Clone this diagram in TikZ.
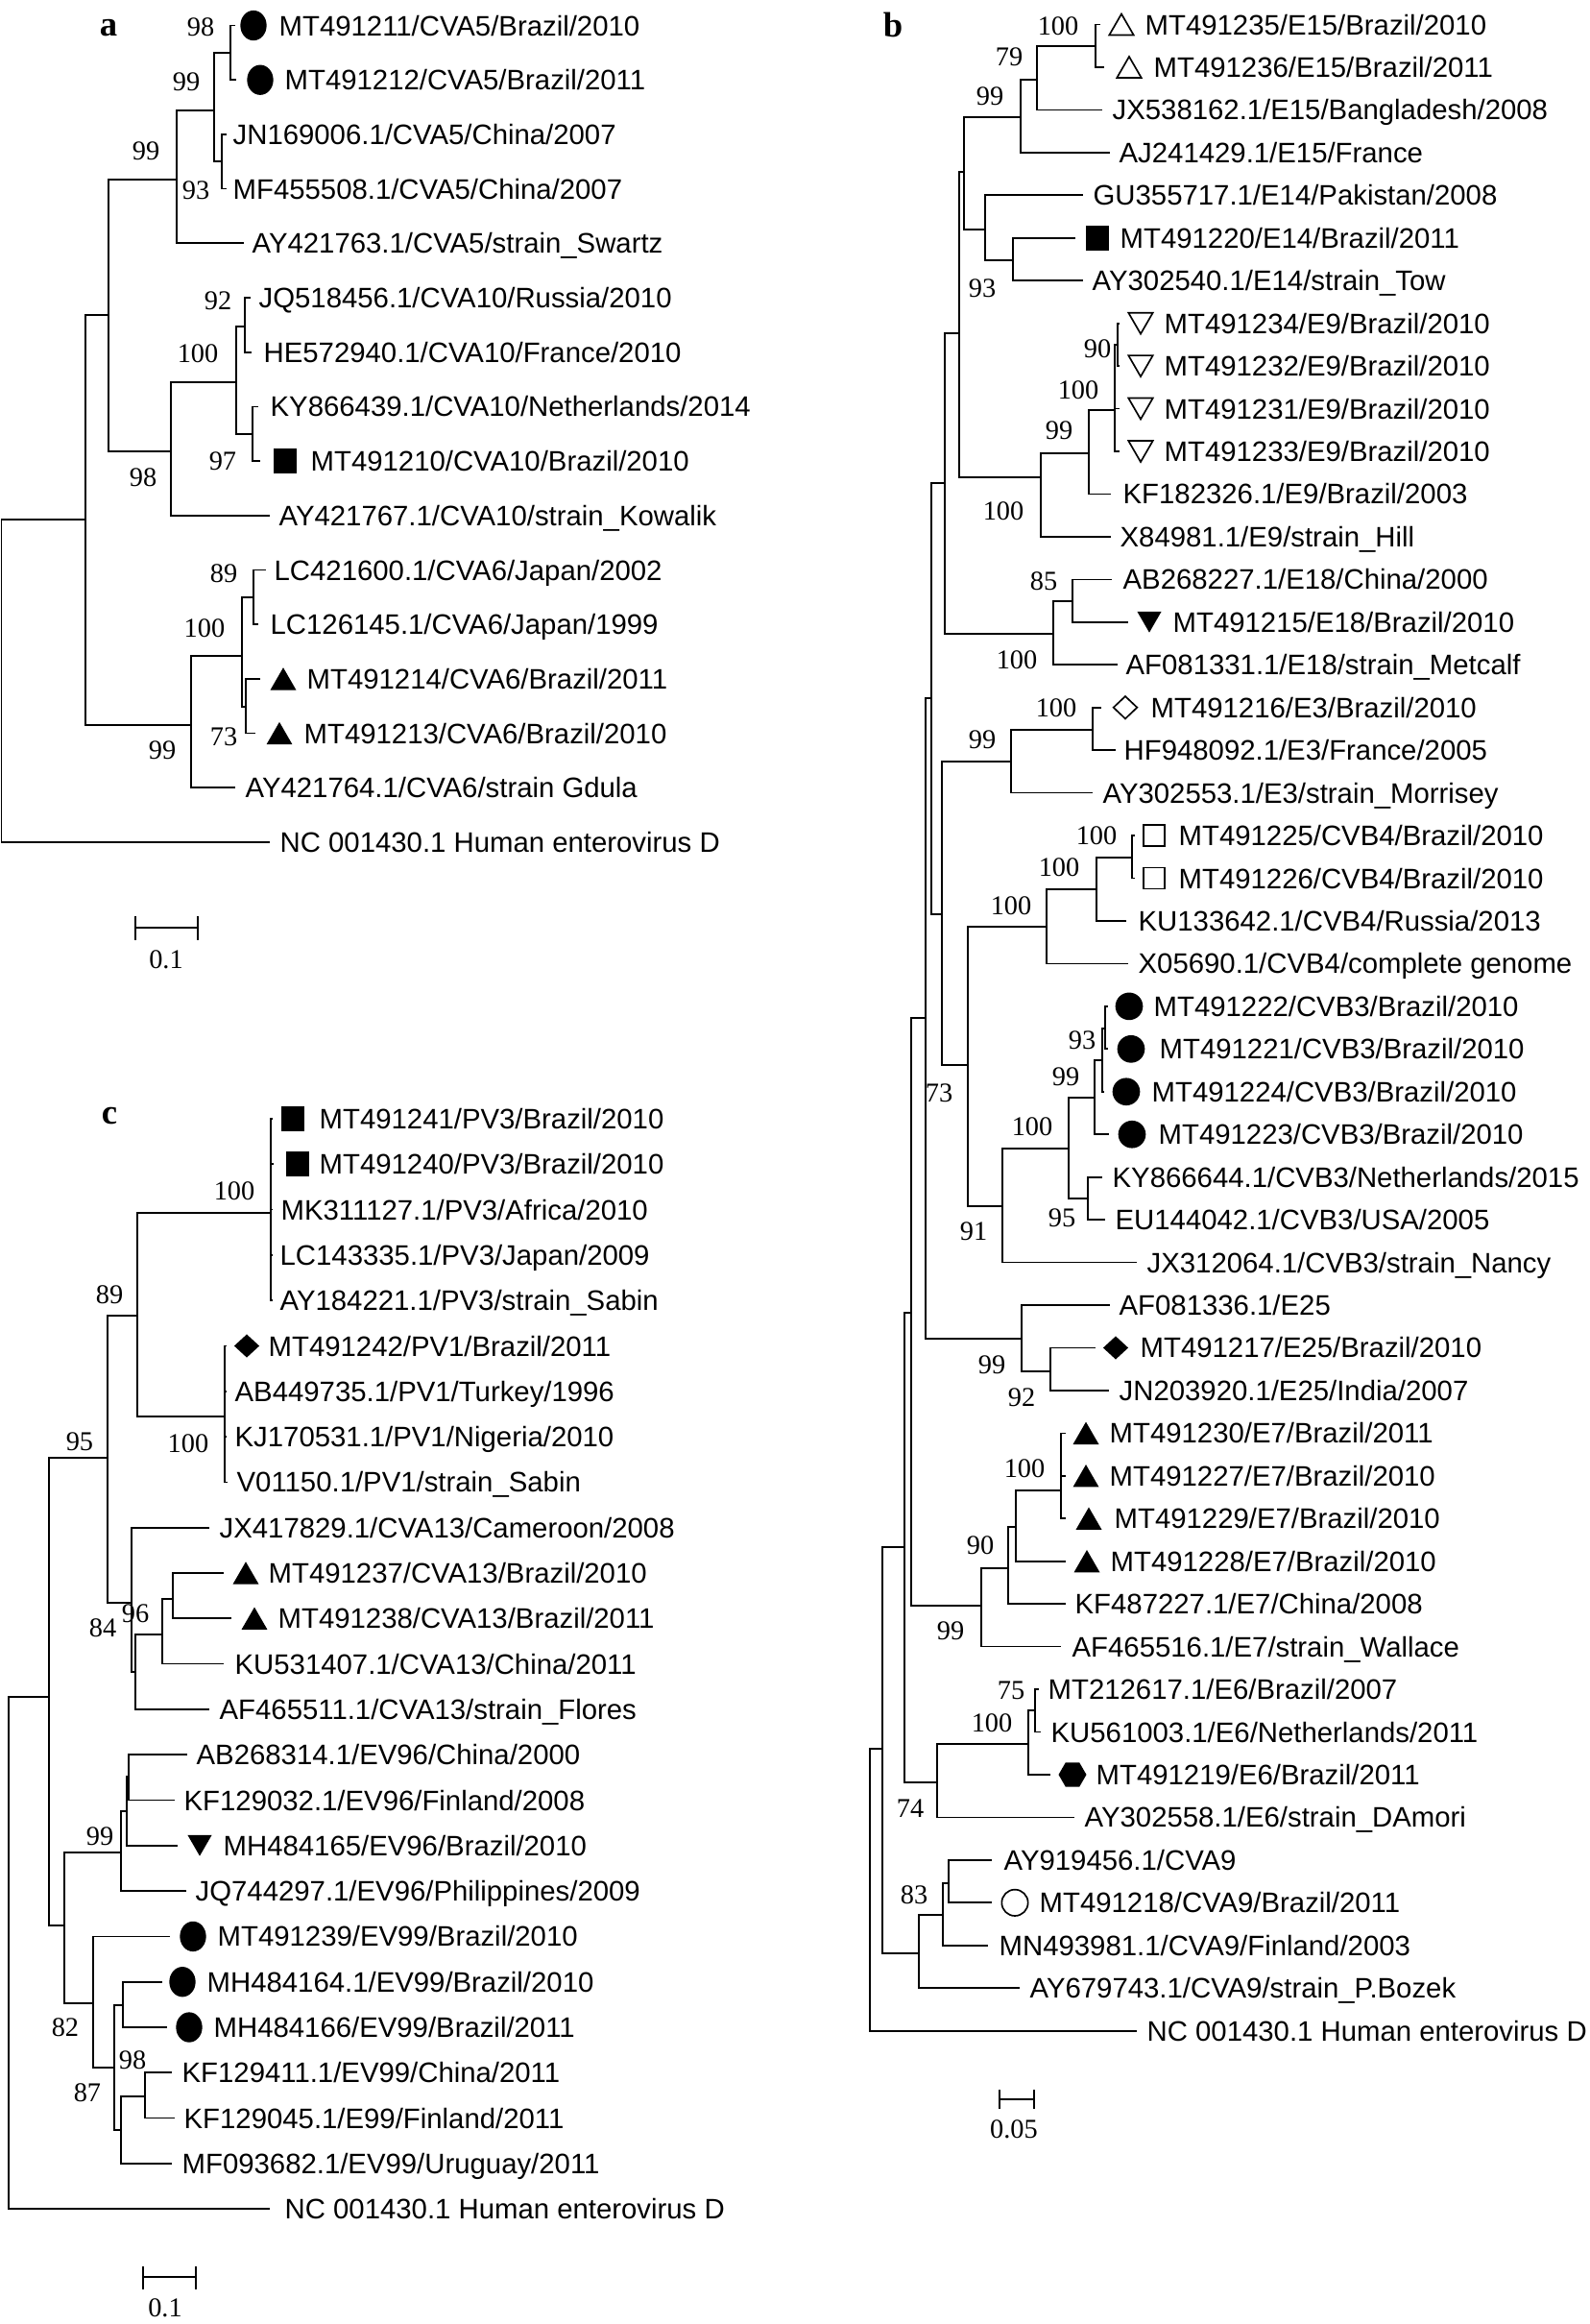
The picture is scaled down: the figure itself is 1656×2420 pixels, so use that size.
\documentclass[tikz,border=0pt]{standalone}
\usepackage{fontspec}
\setmainfont{Liberation Serif}
\newfontfamily\arialfam{Liberation Sans}
\usetikzlibrary{shapes.geometric}
\newcommand{\leaffont}{\arialfam\fontsize{8.8}{10}\selectfont}
\newcommand{\bsfont}{\fontsize{8.5}{10}\selectfont}
\newcommand{\mkleaf}[5]{\coordinate (#1) at (#2,#3); \node[lbl] (#1t) at (#4,#3) {#5};}
\newcommand{\mkbs}[4]{\node[bs] (#1) at (#2,#3) {#4};}
\begin{document}
\begin{tikzpicture}[x=0.3pt,y=-0.3pt,
 br/.style={line width=0.5pt},
 lbl/.style={anchor=base west,inner sep=0pt,yshift=-3.15pt,font=\leaffont},
 bs/.style={inner sep=0pt,font=\bsfont},
 panel/.style={anchor=base,inner sep=0pt,font=\fontsize{11}{12}\selectfont\bfseries},
 fcirc/.style={circle,fill=black,inner sep=0pt,minimum size=8.6pt},
 fell/.style={ellipse,fill=black,inner sep=0pt,minimum width=8.2pt,minimum height=9.4pt},
 ocirc/.style={circle,draw=black,line width=0.5pt,inner sep=0pt,minimum size=8.2pt},
 fsq/.style={rectangle,fill=black,inner sep=0pt,minimum width=7.3pt,minimum height=7.8pt},
 osq/.style={rectangle,draw=black,line width=0.5pt,inner sep=0pt,minimum size=6.6pt},
 ftri/.style={regular polygon,regular polygon sides=3,fill=black,inner sep=0pt,minimum size=9.35pt,yshift=-1.15pt},
 otri/.style={regular polygon,regular polygon sides=3,draw=black,line width=0.5pt,inner sep=0pt,minimum size=8.8pt,yshift=-1.1pt},
 fdtri/.style={regular polygon,regular polygon sides=3,shape border rotate=180,fill=black,inner sep=0pt,minimum size=8.7pt,yshift=1.1pt},
 odtri/.style={regular polygon,regular polygon sides=3,shape border rotate=180,draw=black,line width=0.5pt,inner sep=0pt,minimum size=8.8pt,yshift=1.1pt},
 fdia/.style={diamond,fill=black,inner sep=0pt,minimum width=8pt,minimum height=7.4pt},
 odia/.style={diamond,draw=black,line width=0.5pt,inner sep=0pt,minimum width=7.6pt,minimum height=7.2pt},
 fhex/.style={regular polygon,regular polygon sides=6,fill=black,inner sep=0pt,minimum size=8.7pt},
]
\fill[white] (0,0) rectangle (1656,2420);
\useasboundingbox (0,0) rectangle (1656,2420);

%================ PANEL A ================
\node[panel] (pa) at (113,37) {a};
\coordinate (aR) at (1.5,709);
\coordinate (a1) at (89,541);
\coordinate (a2) at (113,328);
\coordinate (a3) at (184,187);
\coordinate (a4) at (223,115);
\coordinate (a5) at (240,55);
\coordinate (a5b) at (231,168);
\coordinate (a6) at (178,470);
\coordinate (a7) at (246,398);
\coordinate (a8) at (255,340);
\coordinate (a8b) at (263,452);
\coordinate (a9) at (199,755);
\coordinate (a10) at (252,683);
\coordinate (a11) at (264,622);
\coordinate (a12) at (256,736);

\mkleaf{aL0}{245}{26.5}{290}{MT491211/CVA5/Brazil/2010}
\mkleaf{aL1}{246}{83.2}{296}{MT491212/CVA5/Brazil/2011}
\mkleaf{aL2}{236}{139.9}{242}{JN169006.1/CVA5/China/2007}
\mkleaf{aL3}{236}{196.6}{242}{MF455508.1/CVA5/China/2007}
\mkleaf{aL4}{254}{253.3}{262}{AY421763.1/CVA5/strain\_Swartz}
\mkleaf{aL5}{261}{310}{269}{JQ518456.1/CVA10/Russia/2010}
\mkleaf{aL6}{262}{366.7}{274}{HE572940.1/CVA10/France/2010}
\mkleaf{aL7}{269}{423.4}{281}{KY866439.1/CVA10/Netherlands/2014}
\mkleaf{aL8}{271}{480.1}{323}{MT491210/CVA10/Brazil/2010}
\mkleaf{aL9}{281}{536.8}{290}{AY421767.1/CVA10/strain\_Kowalik}
\mkleaf{aL10}{277}{593.5}{285}{LC421600.1/CVA6/Japan/2002}
\mkleaf{aL11}{269}{650.2}{281}{LC126145.1/CVA6/Japan/1999}
\mkleaf{aL12}{271}{706.9}{319}{MT491214/CVA6/Brazil/2011}
\mkleaf{aL13}{266}{763.6}{316}{MT491213/CVA6/Brazil/2010}
\mkleaf{aL14}{245}{820.3}{255}{AY421764.1/CVA6/strain Gdula}
\mkleaf{aL15}{281}{877}{291}{NC 001430.1 Human enterovirus D}

\node[fell] (aS0) at (264,26.5) {};
\node[fell] (aS1) at (271,83.2) {};
\node[fsq] (aS8) at (297,480.1) {};
\node[ftri] (aS12) at (295,706.9) {};
\node[ftri] (aS13) at (291,763.6) {};

\draw[br]
 (aR) |- (a1) (aR) |- (aL15)
 (a1) |- (a2) (a1) |- (a9)
 (a2) |- (a3) (a2) |- (a6)
 (a3) |- (a4) (a3) |- (aL4)
 (a4) |- (a5) (a4) |- (a5b)
 (a5) |- (aL0) (a5) |- (aL1)
 (a5b) |- (aL2) (a5b) |- (aL3)
 (a6) |- (a7) (a6) |- (aL9)
 (a7) |- (a8) (a7) |- (a8b)
 (a8) |- (aL5) (a8) |- (aL6)
 (a8b) |- (aL7) (a8b) |- (aL8)
 (a9) |- (a10) (a9) |- (aL14)
 (a10) |- (a11) (a10) |- (a12)
 (a11) |- (aL10) (a11) |- (aL11)
 (a12) |- (aL12) (a12) |- (aL13);

\mkbs{aB5}{209}{28}{98}
\mkbs{aB4}{194}{85}{99}
\mkbs{aB5b}{204}{198}{93}
\mkbs{aB3}{152}{157}{99}
\mkbs{aB8}{227}{313}{92}
\mkbs{aB7}{206}{368}{100}
\mkbs{aB8b}{232}{480}{97}
\mkbs{aB6}{149}{497}{98}
\mkbs{aB11}{233}{597}{89}
\mkbs{aB10}{213}{654}{100}
\mkbs{aB12}{233}{767}{73}
\mkbs{aB9}{169}{781}{99}

\coordinate (aSc1) at (141,966); \coordinate (aSc2) at (206,966);
\coordinate (aT1) at (141,954); \coordinate (aU1) at (141,979);
\coordinate (aT2) at (206,954); \coordinate (aU2) at (206,979);
\draw[br] (aSc1) -- (aSc2) (aT1) -- (aU1) (aT2) -- (aU2);
\node[bs] (aScl) at (173,999) {0.1};

%================ PANEL B ================
\node[panel] (pb) at (930,38) {b};
\coordinate (bR) at (906,1968);
\coordinate (b919) at (919,1821);
\coordinate (b942) at (942,1611);
\coordinate (b949) at (949,1367);
\coordinate (b963) at (964,1060);
\coordinate (b970) at (970,727);
\coordinate (b985) at (984,503);
\coordinate (bbig) at (999,347);
\coordinate (b1004) at (1004,179);
\coordinate (b99a) at (1063,122);
\coordinate (b79) at (1080,83);
\coordinate (b100a) at (1141,48);
\coordinate (bE14) at (1026,239);
\coordinate (bE14b) at (1055,271);
\coordinate (bE9) at (1084,497);
\coordinate (b99b) at (1134,472);
\coordinate (b100c) at (1161,427);
\coordinate (b90) at (1164,359);
\coordinate (b100d) at (1097,660);
\coordinate (b85) at (1117,626);
\coordinate (b981) at (981,952);
\coordinate (b99e) at (1053,793);
\coordinate (b100e) at (1138,760);
\coordinate (b73) at (1008,1109);
\coordinate (b100f) at (1090,965);
\coordinate (b100g) at (1142,926);
\coordinate (b100h) at (1179,893);
\coordinate (b91) at (1044,1256);
\coordinate (b100i) at (1113,1196);
\coordinate (b99h) at (1140,1143);
\coordinate (bin) at (1148,1104);
\coordinate (b93) at (1151,1071);
\coordinate (b95) at (1133,1248);
\coordinate (b99f) at (1064,1394);
\coordinate (b92) at (1094,1428);
\coordinate (b99g) at (1022,1672);
\coordinate (b90b) at (1050,1633);
\coordinate (b1058) at (1058,1590);
\coordinate (b100j) at (1105,1552);
\coordinate (b74) at (976,1856);
\coordinate (b100k) at (1071,1816);
\coordinate (b75) at (1078,1781);
\coordinate (b957) at (957,2034);
\coordinate (b982) at (982,1994);
\coordinate (b988) at (988,1961);

\mkleaf{bL0}{1146}{25.5}{1192}{MT491235/E15/Brazil/2010}
\mkleaf{bL1}{1150}{69.95}{1201}{MT491236/E15/Brazil/2011}
\mkleaf{bL2}{1148}{114.4}{1158}{JX538162.1/E15/Bangladesh/2008}
\mkleaf{bL3}{1156}{158.85}{1165}{AJ241429.1/E15/France}
\mkleaf{bL4}{1128}{203.3}{1138}{GU355717.1/E14/Pakistan/2008}
\mkleaf{bL5}{1120}{247.75}{1166}{MT491220/E14/Brazil/2011}
\mkleaf{bL6}{1128}{292.2}{1137}{AY302540.1/E14/strain\_Tow}
\mkleaf{bL7}{1166}{336.65}{1212}{MT491234/E9/Brazil/2010}
\mkleaf{bL8}{1166}{381.1}{1212}{MT491232/E9/Brazil/2010}
\mkleaf{bL9}{1166}{425.55}{1212}{MT491231/E9/Brazil/2010}
\mkleaf{bL10}{1166}{470}{1212}{MT491233/E9/Brazil/2010}
\mkleaf{bL11}{1157}{514.45}{1169}{KF182326.1/E9/Brazil/2003}
\mkleaf{bL12}{1157}{558.9}{1166}{X84981.1/E9/strain\_Hill}
\mkleaf{bL13}{1158}{603.35}{1169}{AB268227.1/E18/China/2000}
\mkleaf{bL14}{1175}{647.8}{1221}{MT491215/E18/Brazil/2010}
\mkleaf{bL15}{1164}{692.25}{1172}{AF081331.1/E18/strain\_Metcalf}
\mkleaf{bL16}{1147}{736.7}{1198}{MT491216/E3/Brazil/2010}
\mkleaf{bL17}{1162}{781.15}{1170}{HF948092.1/E3/France/2005}
\mkleaf{bL18}{1138}{825.6}{1148}{AY302553.1/E3/strain\_Morrisey}
\mkleaf{bL19}{1182}{870.05}{1227}{MT491225/CVB4/Brazil/2010}
\mkleaf{bL20}{1182}{914.5}{1227}{MT491226/CVB4/Brazil/2010}
\mkleaf{bL21}{1173}{958.95}{1185}{KU133642.1/CVB4/Russia/2013}
\mkleaf{bL22}{1175}{1003.4}{1185}{X05690.1/CVB4/complete genome}
\mkleaf{bL23}{1154}{1047.85}{1201}{MT491222/CVB3/Brazil/2010}
\mkleaf{bL24}{1154}{1092.3}{1207}{MT491221/CVB3/Brazil/2010}
\mkleaf{bL25}{1150}{1136.75}{1199}{MT491224/CVB3/Brazil/2010}
\mkleaf{bL26}{1155}{1181.2}{1206}{MT491223/CVB3/Brazil/2010}
\mkleaf{bL27}{1148}{1225.65}{1158}{KY866644.1/CVB3/Netherlands/2015}
\mkleaf{bL28}{1151}{1270.1}{1161}{EU144042.1/CVB3/USA/2005}
\mkleaf{bL29}{1184}{1314.55}{1194}{JX312064.1/CVB3/strain\_Nancy}
\mkleaf{bL30}{1156}{1359}{1165}{AF081336.1/E25}
\mkleaf{bL31}{1141}{1403.45}{1187}{MT491217/E25/Brazil/2010}
\mkleaf{bL32}{1155}{1447.9}{1165}{JN203920.1/E25/India/2007}
\mkleaf{bL33}{1110}{1492.35}{1155}{MT491230/E7/Brazil/2011}
\mkleaf{bL34}{1110}{1536.8}{1155}{MT491227/E7/Brazil/2010}
\mkleaf{bL35}{1110}{1581.25}{1160}{MT491229/E7/Brazil/2010}
\mkleaf{bL36}{1110}{1625.7}{1156}{MT491228/E7/Brazil/2010}
\mkleaf{bL37}{1110}{1670.15}{1119}{KF487227.1/E7/China/2008}
\mkleaf{bL38}{1105}{1714.6}{1116}{AF465516.1/E7/strain\_Wallace}
\mkleaf{bL39}{1082}{1759.05}{1091}{MT212617.1/E6/Brazil/2007}
\mkleaf{bL40}{1084}{1803.5}{1094}{KU561003.1/E6/Netherlands/2011}
\mkleaf{bL41}{1094}{1847.95}{1141}{MT491219/E6/Brazil/2011}
\mkleaf{bL42}{1119}{1892.4}{1129}{AY302558.1/E6/strain\_DAmori}
\mkleaf{bL43}{1033}{1936.85}{1045}{AY919456.1/CVA9}
\mkleaf{bL44}{1033}{1981.3}{1082}{MT491218/CVA9/Brazil/2011}
\mkleaf{bL45}{1029}{2025.75}{1040}{MN493981.1/CVA9/Finland/2003}
\mkleaf{bL46}{1062}{2070.2}{1072}{AY679743.1/CVA9/strain\_P.Bozek}
\mkleaf{bL47}{1184}{2114.65}{1194}{NC 001430.1 Human enterovirus D}

\node[otri] (bS0) at (1168,25.5) {};
\node[otri] (bS1) at (1176,69.95) {};
\node[fsq] (bS5) at (1143,247.75) {};
\node[odtri] (bS7) at (1188,336.65) {};
\node[odtri] (bS8) at (1188,381.1) {};
\node[odtri] (bS9) at (1188,425.55) {};
\node[odtri] (bS10) at (1188,470) {};
\node[fdtri] (bS14) at (1197,647.8) {};
\node[odia] (bS16) at (1172,736.7) {};
\node[osq] (bS19) at (1202,870.05) {};
\node[osq] (bS20) at (1202,914.5) {};
\node[fcirc] (bS23) at (1176,1047.85) {};
\node[fcirc] (bS24) at (1178,1092.3) {};
\node[fcirc] (bS25) at (1173,1136.75) {};
\node[fcirc] (bS26) at (1179,1181.2) {};
\node[fdia] (bS31) at (1162,1403.45) {};
\node[ftri] (bS33) at (1131,1492.35) {};
\node[ftri] (bS34) at (1131,1536.8) {};
\node[ftri] (bS35) at (1134,1581.25) {};
\node[ftri] (bS36) at (1132,1625.7) {};
\node[fhex] (bS41) at (1117,1847.95) {};
\node[ocirc] (bS44) at (1057,1981.3) {};

\draw[br]
 (bR) |- (b919) (bR) |- (bL47)
 (b919) |- (b942) (b919) |- (b957)
 (b942) |- (b949) (b942) |- (b74)
 (b949) |- (b963) (b949) |- (b99g)
 (b963) |- (b970) (b963) |- (b99f)
 (b970) |- (b985) (b970) |- (b981)
 (b985) |- (bbig) (b985) |- (b100d)
 (bbig) |- (b1004) (bbig) |- (bE9)
 (b1004) |- (b99a) (b1004) |- (bE14)
 (b99a) |- (b79) (b99a) |- (bL3)
 (b79) |- (b100a) (b79) |- (bL2)
 (b100a) |- (bL0) (b100a) |- (bL1)
 (bE14) |- (bL4) (bE14) |- (bE14b)
 (bE14b) |- (bL5) (bE14b) |- (bL6)
 (bE9) |- (b99b) (bE9) |- (bL12)
 (b99b) |- (b100c) (b99b) |- (bL11)
 (b100c) |- (b90) (b100c) |- (bL9) (b100c) |- (bL10)
 (b90) |- (bL7) (b90) |- (bL8)
 (b100d) |- (b85) (b100d) |- (bL15)
 (b85) |- (bL13) (b85) |- (bL14)
 (b981) |- (b99e) (b981) |- (b73)
 (b99e) |- (b100e) (b99e) |- (bL18)
 (b100e) |- (bL16) (b100e) |- (bL17)
 (b73) |- (b100f) (b73) |- (b91)
 (b100f) |- (b100g) (b100f) |- (bL22)
 (b100g) |- (b100h) (b100g) |- (bL21)
 (b100h) |- (bL19) (b100h) |- (bL20)
 (b91) |- (b100i) (b91) |- (bL29)
 (b100i) |- (b99h) (b100i) |- (b95)
 (b99h) |- (bin) (b99h) |- (bL26)
 (bin) |- (b93) (bin) |- (bL25)
 (b93) |- (bL23) (b93) |- (bL24)
 (b95) |- (bL27) (b95) |- (bL28)
 (b99f) |- (bL30) (b99f) |- (b92)
 (b92) |- (bL31) (b92) |- (bL32)
 (b99g) |- (b90b) (b99g) |- (bL38)
 (b90b) |- (b1058) (b90b) |- (bL37)
 (b1058) |- (b100j) (b1058) |- (bL36)
 (b100j) |- (bL33) (b100j) |- (bL34) (b100j) |- (bL35)
 (b74) |- (b100k) (b74) |- (bL42)
 (b100k) |- (b75) (b100k) |- (bL41)
 (b75) |- (bL39) (b75) |- (bL40)
 (b957) |- (b982) (b957) |- (bL46)
 (b982) |- (b988) (b982) |- (bL45)
 (b988) |- (bL43) (b988) |- (bL44);

\mkbs{bB1}{1102}{27}{100}
\mkbs{bB2}{1051}{59}{79}
\mkbs{bB3}{1031}{100}{99}
\mkbs{bB4}{1023}{300}{93}
\mkbs{bB5}{1143}{363}{90}
\mkbs{bB6}{1123}{406}{100}
\mkbs{bB7}{1103}{448}{99}
\mkbs{bB8}{1045}{532}{100}
\mkbs{bB9}{1087}{605}{85}
\mkbs{bB10}{1059}{687}{100}
\mkbs{bB11}{1100}{737}{100}
\mkbs{bB12}{1023}{770}{99}
\mkbs{bB13}{1142}{870}{100}
\mkbs{bB14}{1103}{903}{100}
\mkbs{bB15}{1053}{943}{100}
\mkbs{bB16}{978}{1138}{73}
\mkbs{bB17}{1127}{1083}{93}
\mkbs{bB18}{1110}{1121}{99}
\mkbs{bB19}{1075}{1173}{100}
\mkbs{bB20}{1106}{1268}{95}
\mkbs{bB21}{1014}{1282}{91}
\mkbs{bB22}{1033}{1421}{99}
\mkbs{bB23}{1064}{1455}{92}
\mkbs{bB24}{1067}{1529}{100}
\mkbs{bB25}{1021}{1609}{90}
\mkbs{bB26}{990}{1698}{99}
\mkbs{bB27}{1053}{1760}{75}
\mkbs{bB28}{1033}{1794}{100}
\mkbs{bB29}{948}{1883}{74}
\mkbs{bB30}{952}{1973}{83}

\coordinate (bSc1) at (1041,2186); \coordinate (bSc2) at (1077,2186);
\coordinate (bT1) at (1041,2176); \coordinate (bU1) at (1041,2196);
\coordinate (bT2) at (1077,2176); \coordinate (bU2) at (1077,2196);
\draw[br] (bSc1) -- (bSc2) (bT1) -- (bU1) (bT2) -- (bU2);
\node[bs] (bScl) at (1056,2217) {0.05};

%================ PANEL C ================
\node[panel] (pc) at (114,1170) {c};
\coordinate (cR) at (9,2034);
\coordinate (c51) at (51,1767);
\coordinate (c95) at (112,1518);
\coordinate (c89) at (143,1370);
\coordinate (cPV3) at (282,1263);
\coordinate (cPV1) at (234,1475);
\coordinate (c84) at (137,1669);
\coordinate (c141) at (141,1741);
\coordinate (c96) at (169,1702);
\coordinate (c179) at (180,1665);
\coordinate (c82) at (67,2005);
\coordinate (c99) at (126,1929);
\coordinate (cb) at (132,1886);
\coordinate (ca) at (134,1850);
\coordinate (c97) at (97,2086);
\coordinate (c87) at (119,2153);
\coordinate (c128) at (128,2088);
\coordinate (c126) at (126,2218);
\coordinate (c98) at (151,2183);

\mkleaf{cL0}{284}{1165}{332}{MT491241/PV3/Brazil/2010}
\mkleaf{cL1}{285}{1212.3}{332}{MT491240/PV3/Brazil/2010}
\mkleaf{cL2}{284}{1259.6}{292}{MK311127.1/PV3/Africa/2010}
\mkleaf{cL3}{284}{1306.9}{291}{LC143335.1/PV3/Japan/2009}
\mkleaf{cL4}{284}{1354.2}{291}{AY184221.1/PV3/strain\_Sabin}
\mkleaf{cL5}{236}{1401.5}{279}{MT491242/PV1/Brazil/2011}
\mkleaf{cL6}{236}{1448.8}{244}{AB449735.1/PV1/Turkey/1996}
\mkleaf{cL7}{236}{1496.1}{244}{KJ170531.1/PV1/Nigeria/2010}
\mkleaf{cL8}{237}{1543.4}{246}{V01150.1/PV1/strain\_Sabin}
\mkleaf{cL9}{218}{1590.7}{228}{JX417829.1/CVA13/Cameroon/2008}
\mkleaf{cL10}{233}{1638}{279}{MT491237/CVA13/Brazil/2010}
\mkleaf{cL11}{241}{1685.3}{289}{MT491238/CVA13/Brazil/2011}
\mkleaf{cL12}{233}{1732.6}{244}{KU531407.1/CVA13/China/2011}
\mkleaf{cL13}{218}{1779.9}{228}{AF465511.1/CVA13/strain\_Flores}
\mkleaf{cL14}{195}{1827.2}{204}{AB268314.1/EV96/China/2000}
\mkleaf{cL15}{182}{1874.5}{191}{KF129032.1/EV96/Finland/2008}
\mkleaf{cL16}{185}{1921.8}{232}{MH484165/EV96/Brazil/2010}
\mkleaf{cL17}{194}{1969.1}{203}{JQ744297.1/EV96/Philippines/2009}
\mkleaf{cL18}{177}{2016.4}{226}{MT491239/EV99/Brazil/2010}
\mkleaf{cL19}{169}{2063.7}{215}{MH484164.1/EV99/Brazil/2010}
\mkleaf{cL20}{174}{2111}{222}{MH484166/EV99/Brazil/2011}
\mkleaf{cL21}{179}{2158.3}{189}{KF129411.1/EV99/China/2011}
\mkleaf{cL22}{182}{2205.6}{191}{KF129045.1/E99/Finland/2011}
\mkleaf{cL23}{179}{2252.9}{189}{MF093682.1/EV99/Uruguay/2011}
\mkleaf{cL24}{281}{2300.2}{296}{NC 001430.1 Human enterovirus D}

\node[fsq] (cS0) at (305,1165) {};
\node[fsq] (cS1) at (310,1212.3) {};
\node[fdia] (cS5) at (257,1401.5) {};
\node[ftri] (cS10) at (256,1638) {};
\node[ftri] (cS11) at (265,1685.3) {};
\node[fdtri] (cS16) at (208,1921.8) {};
\node[fell] (cS18) at (201,2016.4) {};
\node[fell] (cS19) at (190,2063.7) {};
\node[fell] (cS20) at (197,2111) {};

\draw[br]
 (cR) |- (c51) (cR) |- (cL24)
 (c51) |- (c95) (c51) |- (c82)
 (c95) |- (c89) (c95) |- (c84)
 (c89) |- (cPV3) (c89) |- (cPV1)
 (cPV3) |- (cL0) (cPV3) |- (cL1) (cPV3) |- (cL2) (cPV3) |- (cL3) (cPV3) |- (cL4)
 (cPV1) |- (cL5) (cPV1) |- (cL6) (cPV1) |- (cL7) (cPV1) |- (cL8)
 (c84) |- (cL9) (c84) |- (c141)
 (c141) |- (c96) (c141) |- (cL13)
 (c96) |- (c179) (c96) |- (cL12)
 (c179) |- (cL10) (c179) |- (cL11)
 (c82) |- (c99) (c82) |- (c97)
 (c99) |- (cb) (c99) |- (cL17)
 (cb) |- (ca) (cb) |- (cL16)
 (ca) |- (cL14) (ca) |- (cL15)
 (c97) |- (cL18) (c97) |- (c87)
 (c87) |- (c128) (c87) |- (c126)
 (c128) |- (cL19) (c128) |- (cL20)
 (c126) |- (c98) (c126) |- (cL23)
 (c98) |- (cL21) (c98) |- (cL22);

\mkbs{cB1}{244}{1240}{100}
\mkbs{cB2}{114}{1348}{89}
\mkbs{cB3}{83}{1501}{95}
\mkbs{cB4}{196}{1503}{100}
\mkbs{cB5}{141}{1680}{96}
\mkbs{cB6}{107}{1695}{84}
\mkbs{cB7}{104}{1912}{99}
\mkbs{cB8}{68}{2111}{82}
\mkbs{cB9}{138}{2145}{98}
\mkbs{cB10}{91}{2179}{87}

\coordinate (cSc1) at (149,2371); \coordinate (cSc2) at (204,2371);
\coordinate (cT1) at (149,2360); \coordinate (cU1) at (149,2384);
\coordinate (cT2) at (204,2360); \coordinate (cU2) at (204,2384);
\draw[br] (cSc1) -- (cSc2) (cT1) -- (cU1) (cT2) -- (cU2);
\node[bs] (cScl) at (172,2403) {0.1};
\end{tikzpicture}
\end{document}
